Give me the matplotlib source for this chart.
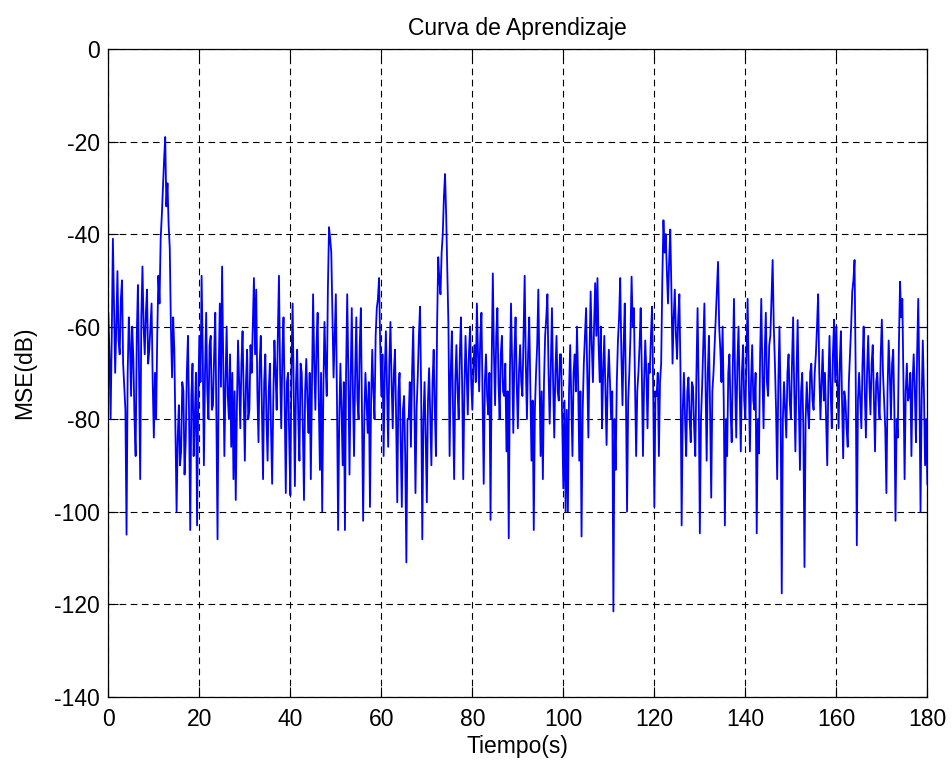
import numpy as np
import matplotlib
matplotlib.use("Agg")
import matplotlib.pyplot as plt

# MSE (dB) sampled every 0.25 s, one row per 10 s of signal
mse_0_10 = [-57, -66, -80, -62, -41, -55, -70, -60, -48, -63, -66, -54, -50, -68,
            -73, -78, -105, -70, -58, -64, -75, -60, -67, -80, -88, -62, -51, -70,
            -93, -58, -47, -60, -66, -57, -52, -68, -65, -60, -55, -72]
mse_10_20 = [-84, -70, -80, -62, -49, -55, -41, -36, -30, -24, -19, -34, -29, -38,
             -43, -60, -71, -58, -65, -82, -100, -84, -77, -90, -87, -72, -74, -92,
             -85, -70, -62, -80, -104, -75, -68, -88, -80, -70, -103, -76]
mse_20_30 = [-62, -72, -49, -66, -90, -70, -57, -74, -80, -64, -62, -78, -77, -66,
             -57, -80, -106, -70, -55, -73, -47, -68, -88, -72, -60, -75, -80, -66,
             -86, -70, -93, -74, -97.5, -78, -63, -72, -82, -68, -61, -75]
mse_30_40 = [-89, -72, -65, -80, -78, -64, -70, -60, -49.5, -66, -52, -74, -85, -68,
             -62, -78, -93, -72, -66, -80, -89, -74, -68, -82, -94, -76, -63, -70,
             -78, -62, -49, -70, -82, -66, -58, -76, -96, -72, -70, -84]
mse_40_50 = [-96.5, -68, -55, -74, -94.5, -72, -65, -80, -89, -68, -70, -82, -97.5,
             -74, -67, -76, -83, -70, -93, -72, -53, -68, -78, -64, -57, -76, -91,
             -70, -100, -74, -59, -68, -75, -52, -38.5, -41, -44, -58, -71, -62]
mse_50_60 = [-53, -76, -104, -80, -68, -78, -90, -72, -104, -70, -53, -70, -92, -72,
             -56, -74, -88, -70, -58, -76, -80, -64, -56, -78, -102, -80, -70, -76,
             -83, -72, -99, -76, -65, -74, -80, -62, -56, -54, -49.5, -64]
mse_60_70 = [-75, -66, -88, -70, -61, -74, -86, -68, -59, -72, -82, -70, -65, -80,
             -98, -74, -70, -84, -99, -78, -75, -88, -111, -80, -80, -72, -86, -70,
             -60, -76, -96, -78, -71, -62, -55.7, -74, -106, -80, -72, -84]
mse_70_80 = [-98, -76, -69, -80, -90, -72, -65, -78, -88, -60, -45, -50, -53, -44,
             -40, -32, -27, -36, -48, -60, -88, -70, -61, -78, -93, -72, -64, -74,
             -80, -66, -58, -72, -93, -74, -62, -70, -79, -66, -60, -72]
mse_80_90 = [-78, -68, -64, -72, -55, -66, -74, -62, -57, -76, -94, -72, -66, -75,
             -79, -70, -101.8, -68, -48.5, -66, -77, -62, -56, -72, -80, -66, -62,
             -74, -75, -68, -87, -74, -105.8, -70, -55, -68, -83, -66, -58, -72]
mse_90_100 = [-82, -70, -64, -72, -75, -62, -49, -68, -80, -66, -58, -74, -89, -76,
              -104, -78, -70, -64, -52, -70, -88, -74, -93, -72, -62, -58, -53, -70,
              -81, -68, -56, -72, -84, -70, -62, -74, -76, -66, -66, -80]
mse_100_110 = [-95, -76, -100, -78, -100, -74, -64, -76, -88, -70, -66, -74, -60,
               -72, -89, -74, -105.4, -78, -68, -62, -56, -70, -84, -66, -52.4, -64,
               -72, -60, -50.6, -62, -49.5, -64, -72, -60, -82, -70, -62, -74, -85.6,
               -72]
mse_110_120 = [-65, -72, -80, -74, -121.6, -80, -91, -72, -63, -58, -49.5, -66, -77,
               -64, -55, -74, -100, -76, -70, -62, -49.2, -60, -56, -72, -88, -74,
               -70, -64, -56, -70, -88, -72, -63, -70, -82, -68, -70, -62, -55.7, -74]
mse_120_130 = [-99, -74, -75, -70, -88, -72, -68, -50, -37, -44, -40, -48, -55, -46,
               -39, -52, -68, -58, -52, -62, -67, -58, -53, -70, -103, -78, -70, -80,
               -88, -74, -71, -80, -85, -72, -73, -82, -88, -70, -56, -74]
mse_130_140 = [-104.7, -80, -73, -64, -55, -72, -89, -70, -62, -78, -97, -74, -70,
               -64, -58, -52, -46, -60, -65, -72, -60, -76, -103, -80, -88, -70, -66,
               -78, -85, -68, -54, -72, -84, -68, -60, -74, -87, -70, -64, -76]
mse_140_150 = [-80, -66, -54, -70, -87, -72, -64, -76, -78, -70, -104.7, -80, -87.4,
               -66, -54, -70, -82, -66, -57, -72, -75, -64, -62, -54, -45.6, -60, -68,
               -78, -93, -72, -60, -76, -117.7, -80, -72, -78, -84, -70, -66, -76]
mse_150_160 = [-80, -68, -58, -74, -87, -70, -58.6, -76, -91, -74, -70, -82, -112,
               -80, -72, -78, -82, -70, -68, -76, -78, -70, -66, -60, -53, -70, -80,
               -72, -65, -76, -70, -80, -90, -72, -62, -74, -82, -66, -58.5, -72]
mse_160_170 = [-60, -72, -82, -68, -61, -76, -88.5, -74, -76, -82, -86, -72, -66,
               -60, -52.4, -50, -45.6, -70, -107.3, -76, -70, -76, -82, -68, -60, -74,
               -84, -70, -62, -72, -79, -68, -64, -76, -87, -72, -70, -76, -80, -66]
mse_170_180 = [-58.5, -70, -76, -82, -96, -74, -63, -70, -80, -68, -65, -78, -102,
               -80, -84, -64, -50.3, -58, -54, -72, -93, -74, -68, -76, -75, -70, -88,
               -72, -66, -74, -85, -66, -54, -72, -100, -76, -63, -74, -90, -80, -94]

mse = np.concatenate([mse_0_10, mse_10_20, mse_20_30, mse_30_40, mse_40_50,
                      mse_50_60, mse_60_70, mse_70_80, mse_80_90, mse_90_100,
                      mse_100_110, mse_110_120, mse_120_130, mse_130_140,
                      mse_140_150, mse_150_160, mse_160_170, mse_170_180])
t = np.linspace(0, 180, len(mse))

x_ticks = [0, 20, 40, 60, 80, 100, 120, 140, 160, 180]
y_ticks = [0, -20, -40, -60, -80, -100, -120, -140]

plt.rcParams['font.family'] = ['Liberation Sans', 'DejaVu Sans']
plt.rcParams['axes.unicode_minus'] = False

fig = plt.figure(figsize=(9.52, 7.67), dpi=100)
ax = fig.add_axes([0.1138, 0.0919, 0.8603, 0.844])

ax.plot(t, mse, color=(0, 0, 1), linewidth=1.3)

ax.set_xlim(0, 180)
ax.set_ylim(-140, 0)
ax.set_xticks(x_ticks)
ax.set_yticks(y_ticks)
ax.grid(True, color='black', linestyle=(0, (6, 4)), linewidth=0.8)
ax.tick_params(axis='both', direction='in', length=7, width=0.8, top=True,
               right=True, labelsize=16.5)
ax.tick_params(axis='x', pad=8)
ax.tick_params(axis='y', pad=6)
for sp in ax.spines.values():
    sp.set_linewidth(0.9)

ax.set_title('Curva de Aprendizaje', fontsize=16.5, pad=10)
ax.set_xlabel('Tiempo(s)', fontsize=16.5, labelpad=3)
ax.set_ylabel('MSE(dB)', fontsize=16.5, labelpad=13)

fig.savefig('out.png', dpi=100, facecolor='white')
